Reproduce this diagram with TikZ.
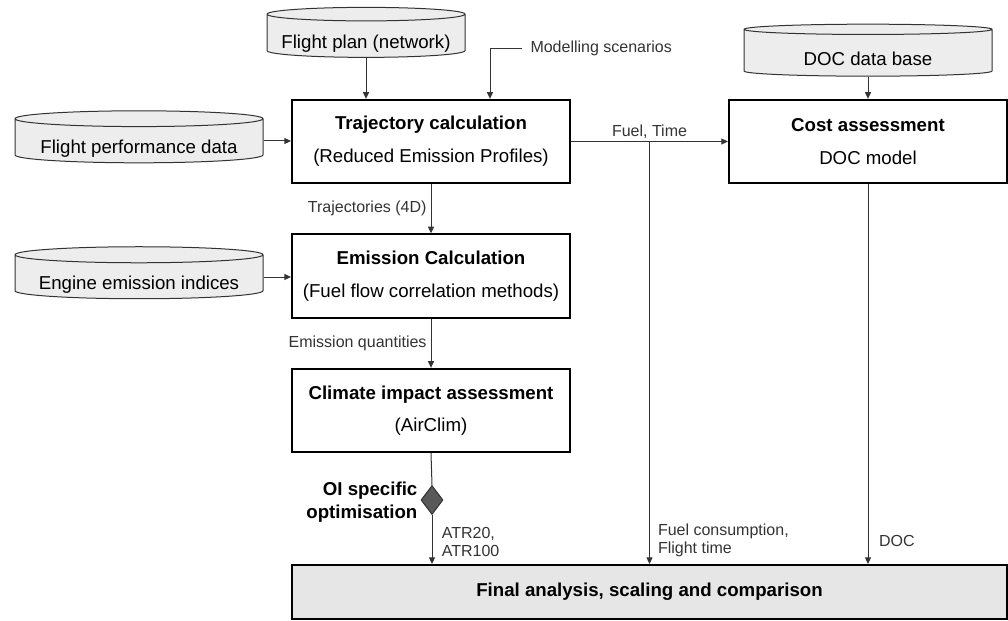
\documentclass[tikz,border=0pt]{standalone}
\usepackage{fontspec}
\setmainfont{Liberation Sans}
\usepackage{tikz}
\usetikzlibrary{calc}
\usetikzlibrary{shapes.geometric}
\usetikzlibrary{arrows.meta}
\definecolor{dbfill}{HTML}{EDEDED}
\definecolor{finalfill}{HTML}{E6E6E6}
\definecolor{wiregray}{HTML}{333333}
\definecolor{diagray}{HTML}{595959}
\tikzset{proc box/.style={draw, line width=1.5pt, minimum width=208.5pt, minimum height=62.5pt, align=center, font=\fontsize{14}{24.5}\selectfont}}
\tikzset{data base/.style={cylinder, shape border rotate=90, aspect=0.08, draw=wiregray, line width=0.75pt, fill=dbfill, minimum width=186pt, minimum height=39pt, inner sep=0, text height=19pt, text depth=0pt, font=\fontsize{14}{17}\selectfont}}
\tikzset{wire label/.style={font=\fontsize{12}{13.5}\selectfont, text=wiregray, inner sep=2pt}}
\tikzset{every path/.style={line width=0.75pt}}
\tikzset{arr/.style={draw=wiregray, -{Triangle[length=5pt, width=4.5pt]}}}

\begin{document}
\begin{tikzpicture}[x=0.75pt, y=-0.75pt]
  \useasboundingbox (0, 0) rectangle (1008, 621);

  \node[proc box] at (431, 141.5) (traj) {\textbf{Trajectory calculation}\\(Reduced Emission Profiles)};
  \node[proc box] at (431, 276) (emis) {\textbf{Emission Calculation}\\(Fuel flow correlation methods)};
  \node[proc box] at (431, 410.5) (clim) {\textbf{Climate impact assessment}\\(AirClim)};
  \node[proc box] at (868, 141.5) (cost) {\textbf{Cost assessment}\\DOC model};
  \node[proc box, fill=finalfill, minimum width=536.25pt, minimum height=40.5pt] at (649.5, 592) (final) {\textbf{Final analysis, scaling and comparison}};

  \node[data base, minimum width=148.5pt, minimum height=37.5pt] at (366, 36) (plan) {Flight plan (network)};
  \node[data base] at (139, 141) (perf) {Flight performance data};
  \node[data base] at (139, 277) (eng) {Engine emission indices};
  \node[data base] at (868, 53) (docdb) {DOC data base};

  \node[diamond, draw=wiregray, fill=diagray, inner sep=0, minimum width=16.5pt, minimum height=21.75pt] at (432, 500) (opt) {};
  \node[anchor=east, align=right, font=\fontsize{14}{17.5}\selectfont\bfseries, inner sep=2pt] at ($(opt.west)+(0, 2)$) (optlbl) {OI specific\\optimisation};

  \node[wire label, anchor=west, inner xsep=6pt] at (522, 48) (scen) {Modelling scenarios};

  % inputs
  \draw[arr] (plan.south) -- (plan.south |- traj.north);
  \draw[arr] (scen.west) -| ($(traj.north)+(59, 0)$);
  \draw[arr] (perf.east) -- (perf.east -| traj.west);
  \draw[arr] (eng.east) -- (eng.east -| emis.west);
  \draw[arr] (docdb.south) -- (cost.north);

  % main chain
  \draw[arr] (traj.south) -- node[wire label, left, inner xsep=3pt] {Trajectories (4D)} (emis.north);
  \draw[arr] (emis.south) -- node[wire label, left, inner xsep=3pt] {Emission quantities} (clim.north);
  \draw[draw=wiregray] (clim.south) -- (opt.north);
  \draw[arr] (opt.south) -- node[wire label, right, align=left, pos=0.55, inner xsep=7pt] {ATR20,\\ATR100} (opt.south |- final.north);

  % fuel and time
  \coordinate (ft) at ($(traj.east)!0.5!(cost.west)$);
  \draw[arr] (traj.east) -- node[wire label, above] {Fuel, Time} (cost.west);
  \draw[arr] (ft) -- node[wire label, right, align=left, pos=0.945, inner xsep=6pt] {Fuel consumption,\\Flight time} (ft |- final.north);
  \draw[arr] (cost.south) -- node[wire label, right, pos=0.94, inner xsep=8pt] {DOC} (cost.south |- final.north);
\end{tikzpicture}
\end{document}
